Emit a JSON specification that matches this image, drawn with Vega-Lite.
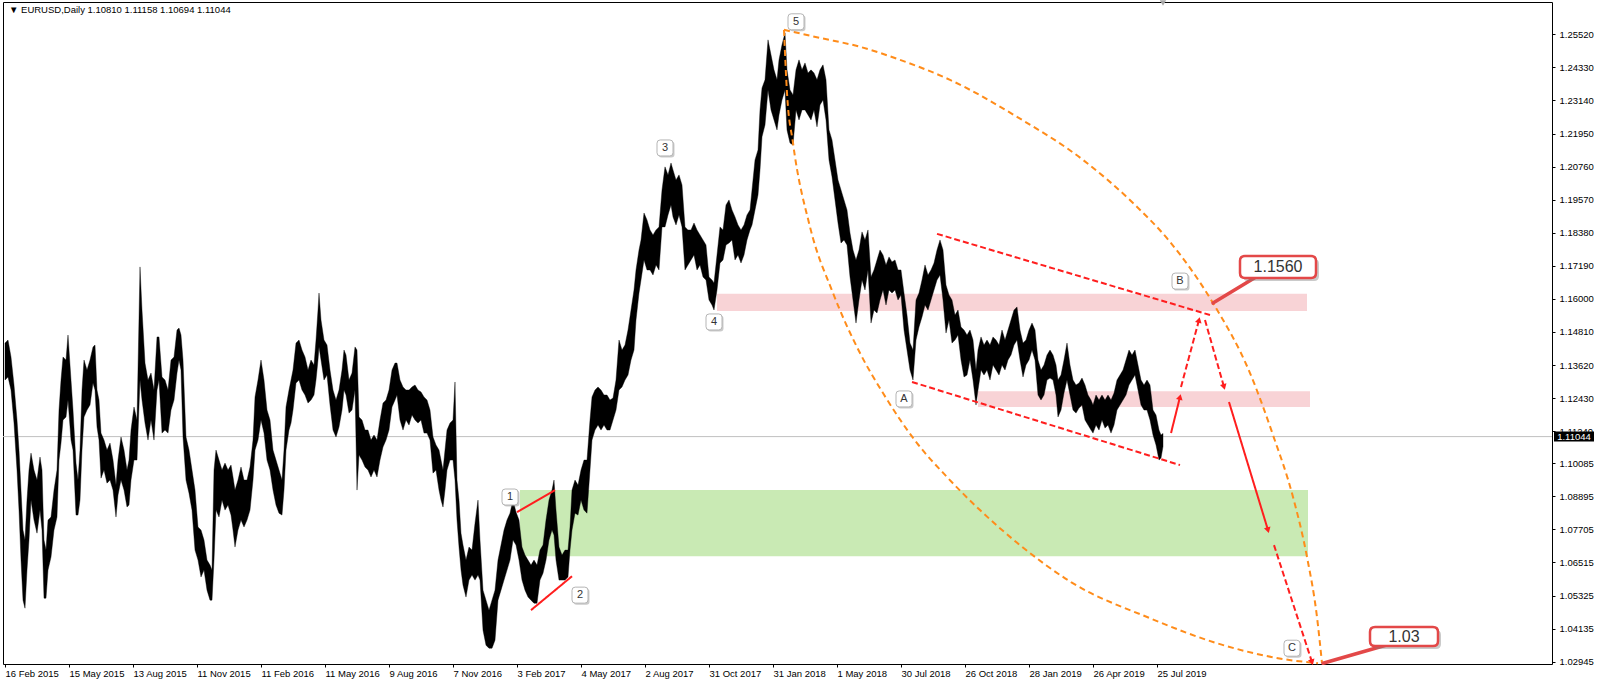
{
"$schema":"https://vega.github.io/schema/vega-lite/v6.json",
"width":1549,"height":662,
"autosize":{"type":"none"},
"padding":{"left":3,"top":2,"right":48,"bottom":21},
"background":"#ffffff",
"config":{"view":{"stroke":"#000000","strokeWidth":1},"axis":{"labelOverlap":false,"labelBound":false,"labelFlush":false}},
"datasets":{
"price":[
{"b":0,"p":1.1441,"p2":1.1308},{"b":3,"p":1.1452,"p2":1.1319},{"b":6,"p":1.1391,"p2":1.1272},{"b":9,"p":1.1290,"p2":1.1153},{"b":12,"p":1.1164,"p2":1.0984},{"b":14,"p":1.1056,"p2":1.0840},{"b":16,"p":1.0912,"p2":1.0660},{"b":18,"p":1.0768,"p2":1.0516},{"b":20,"p":1.0732,"p2":1.0487},{"b":22,"p":1.0876,"p2":1.0624},{"b":24,"p":1.0984,"p2":1.0732},{"b":26,"p":1.1045,"p2":1.0876},{"b":29,"p":1.0984,"p2":1.0804},{"b":32,"p":1.0948,"p2":1.0757},{"b":35,"p":1.1031,"p2":1.0840},{"b":37,"p":1.0984,"p2":1.0768},{"b":39,"p":1.0732,"p2":1.0523},{"b":41,"p":1.0696,"p2":1.0523},{"b":43,"p":1.0804,"p2":1.0624},{"b":46,"p":1.0815,"p2":1.0671},{"b":49,"p":1.0912,"p2":1.0768},{"b":52,"p":1.0984,"p2":1.0815},{"b":54,"p":1.1200,"p2":1.1020},{"b":56,"p":1.1308,"p2":1.1081},{"b":58,"p":1.1391,"p2":1.1164},{"b":61,"p":1.1380,"p2":1.1175},{"b":63,"p":1.1470,"p2":1.1236},{"b":66,"p":1.1308,"p2":1.1092},{"b":68,"p":1.1200,"p2":1.1056},{"b":71,"p":1.1009,"p2":1.0822},{"b":73,"p":1.0948,"p2":1.0822},{"b":75,"p":1.1056,"p2":1.0876},{"b":77,"p":1.1272,"p2":1.1056},{"b":79,"p":1.1380,"p2":1.1175},{"b":82,"p":1.1344,"p2":1.1200},{"b":85,"p":1.1380,"p2":1.1218},{"b":88,"p":1.1427,"p2":1.1297},{"b":90,"p":1.1434,"p2":1.1272},{"b":92,"p":1.1272,"p2":1.1139},{"b":94,"p":1.1236,"p2":1.1092},{"b":96,"p":1.1117,"p2":1.0955},{"b":99,"p":1.1092,"p2":1.0984},{"b":102,"p":1.1056,"p2":1.0937},{"b":105,"p":1.1081,"p2":1.0948},{"b":108,"p":1.1020,"p2":1.0912},{"b":111,"p":1.0930,"p2":1.0815},{"b":113,"p":1.1020,"p2":1.0894},{"b":116,"p":1.1103,"p2":1.0948},{"b":119,"p":1.1056,"p2":1.0912},{"b":122,"p":1.0984,"p2":1.0851},{"b":124,"p":1.1020,"p2":1.0858},{"b":126,"p":1.1128,"p2":1.0948},{"b":129,"p":1.1211,"p2":1.1020},{"b":132,"p":1.1164,"p2":1.1020},{"b":135,"p":1.1715,"p2":1.1308},{"b":137,"p":1.1560,"p2":1.1236},{"b":140,"p":1.1369,"p2":1.1153},{"b":143,"p":1.1308,"p2":1.1092},{"b":146,"p":1.1333,"p2":1.1164},{"b":149,"p":1.1272,"p2":1.1092},{"b":152,"p":1.1463,"p2":1.1272},{"b":154,"p":1.1463,"p2":1.1308},{"b":157,"p":1.1319,"p2":1.1117},{"b":160,"p":1.1308,"p2":1.1128},{"b":163,"p":1.1272,"p2":1.1117},{"b":166,"p":1.1380,"p2":1.1200},{"b":169,"p":1.1391,"p2":1.1236},{"b":172,"p":1.1488,"p2":1.1333},{"b":174,"p":1.1495,"p2":1.1380},{"b":176,"p":1.1470,"p2":1.1344},{"b":178,"p":1.1380,"p2":1.1103},{"b":181,"p":1.1103,"p2":1.0948},{"b":184,"p":1.1056,"p2":1.0901},{"b":187,"p":1.0984,"p2":1.0840},{"b":190,"p":1.0912,"p2":1.0696},{"b":193,"p":1.0779,"p2":1.0660},{"b":196,"p":1.0768,"p2":1.0599},{"b":199,"p":1.0732,"p2":1.0624},{"b":202,"p":1.0660,"p2":1.0552},{"b":205,"p":1.0642,"p2":1.0516},{"b":207,"p":1.0624,"p2":1.0516},{"b":209,"p":1.0984,"p2":1.0660},{"b":211,"p":1.1056,"p2":1.0840},{"b":214,"p":1.1020,"p2":1.0815},{"b":217,"p":1.0984,"p2":1.0876},{"b":220,"p":1.1009,"p2":1.0840},{"b":223,"p":1.0984,"p2":1.0858},{"b":226,"p":1.1002,"p2":1.0822},{"b":228,"p":1.0959,"p2":1.0768},{"b":230,"p":1.0912,"p2":1.0707},{"b":233,"p":1.0948,"p2":1.0768},{"b":236,"p":1.0995,"p2":1.0804},{"b":239,"p":1.0948,"p2":1.0779},{"b":242,"p":1.0948,"p2":1.0804},{"b":245,"p":1.0995,"p2":1.0840},{"b":248,"p":1.1092,"p2":1.0948},{"b":250,"p":1.1247,"p2":1.1056},{"b":253,"p":1.1308,"p2":1.1092},{"b":256,"p":1.1380,"p2":1.1164},{"b":259,"p":1.1308,"p2":1.1117},{"b":262,"p":1.1200,"p2":1.1020},{"b":265,"p":1.1164,"p2":1.0984},{"b":268,"p":1.1056,"p2":1.0912},{"b":271,"p":1.1020,"p2":1.0858},{"b":274,"p":1.0984,"p2":1.0829},{"b":277,"p":1.0948,"p2":1.0822},{"b":279,"p":1.1056,"p2":1.0912},{"b":281,"p":1.1211,"p2":1.1056},{"b":284,"p":1.1272,"p2":1.1128},{"b":286,"p":1.1308,"p2":1.1153},{"b":288,"p":1.1344,"p2":1.1200},{"b":291,"p":1.1441,"p2":1.1297},{"b":294,"p":1.1452,"p2":1.1308},{"b":297,"p":1.1416,"p2":1.1272},{"b":300,"p":1.1391,"p2":1.1254},{"b":303,"p":1.1344,"p2":1.1225},{"b":306,"p":1.1380,"p2":1.1236},{"b":309,"p":1.1362,"p2":1.1254},{"b":311,"p":1.1452,"p2":1.1308},{"b":313,"p":1.1560,"p2":1.1380},{"b":314,"p":1.1621,"p2":1.1427},{"b":316,"p":1.1524,"p2":1.1380},{"b":319,"p":1.1452,"p2":1.1308},{"b":322,"p":1.1434,"p2":1.1326},{"b":325,"p":1.1344,"p2":1.1218},{"b":328,"p":1.1272,"p2":1.1128},{"b":331,"p":1.1236,"p2":1.1103},{"b":334,"p":1.1272,"p2":1.1139},{"b":337,"p":1.1344,"p2":1.1200},{"b":339,"p":1.1416,"p2":1.1272},{"b":341,"p":1.1398,"p2":1.1254},{"b":344,"p":1.1308,"p2":1.1189},{"b":347,"p":1.1333,"p2":1.1200},{"b":350,"p":1.1427,"p2":1.1272},{"b":352,"p":1.1416,"p2":1.0912},{"b":354,"p":1.1175,"p2":1.1038},{"b":357,"p":1.1164,"p2":1.1020},{"b":360,"p":1.1128,"p2":1.0995},{"b":363,"p":1.1128,"p2":1.0984},{"b":366,"p":1.1092,"p2":1.0959},{"b":369,"p":1.1110,"p2":1.0984},{"b":372,"p":1.1092,"p2":1.0959},{"b":375,"p":1.1164,"p2":1.1020},{"b":378,"p":1.1225,"p2":1.1067},{"b":381,"p":1.1236,"p2":1.1092},{"b":384,"p":1.1272,"p2":1.1128},{"b":387,"p":1.1344,"p2":1.1211},{"b":390,"p":1.1369,"p2":1.1236},{"b":392,"p":1.1369,"p2":1.1254},{"b":395,"p":1.1308,"p2":1.1164},{"b":398,"p":1.1283,"p2":1.1128},{"b":401,"p":1.1272,"p2":1.1164},{"b":404,"p":1.1272,"p2":1.1146},{"b":407,"p":1.1283,"p2":1.1182},{"b":410,"p":1.1290,"p2":1.1164},{"b":413,"p":1.1272,"p2":1.1153},{"b":416,"p":1.1265,"p2":1.1164},{"b":419,"p":1.1247,"p2":1.1117},{"b":422,"p":1.1236,"p2":1.1117},{"b":425,"p":1.1200,"p2":1.1092},{"b":428,"p":1.1103,"p2":1.0973},{"b":431,"p":1.1074,"p2":1.0984},{"b":434,"p":1.1056,"p2":1.0912},{"b":436,"p":1.1020,"p2":1.0876},{"b":438,"p":1.0984,"p2":1.0851},{"b":440,"p":1.1056,"p2":1.0912},{"b":442,"p":1.1128,"p2":1.0984},{"b":445,"p":1.1153,"p2":1.1020},{"b":448,"p":1.1164,"p2":1.1020},{"b":450,"p":1.1301,"p2":1.0948},{"b":452,"p":1.0948,"p2":1.0804},{"b":454,"p":1.0876,"p2":1.0707},{"b":456,"p":1.0757,"p2":1.0624},{"b":458,"p":1.0714,"p2":1.0570},{"b":461,"p":1.0660,"p2":1.0527},{"b":464,"p":1.0707,"p2":1.0588},{"b":467,"p":1.0696,"p2":1.0606},{"b":470,"p":1.0793,"p2":1.0588},{"b":473,"p":1.0876,"p2":1.0606},{"b":475,"p":1.0732,"p2":1.0588},{"b":478,"p":1.0552,"p2":1.0408},{"b":481,"p":1.0516,"p2":1.0354},{"b":484,"p":1.0480,"p2":1.0343},{"b":487,"p":1.0516,"p2":1.0343},{"b":490,"p":1.0552,"p2":1.0372},{"b":493,"p":1.0660,"p2":1.0516},{"b":496,"p":1.0714,"p2":1.0552},{"b":499,"p":1.0768,"p2":1.0588},{"b":502,"p":1.0804,"p2":1.0624},{"b":505,"p":1.0829,"p2":1.0660},{"b":508,"p":1.0876,"p2":1.0732},{"b":511,"p":1.0833,"p2":1.0714},{"b":514,"p":1.0804,"p2":1.0660},{"b":517,"p":1.0707,"p2":1.0588},{"b":520,"p":1.0678,"p2":1.0552},{"b":523,"p":1.0660,"p2":1.0527},{"b":526,"p":1.0642,"p2":1.0516},{"b":529,"p":1.0660,"p2":1.0505},{"b":532,"p":1.0642,"p2":1.0505},{"b":535,"p":1.0696,"p2":1.0588},{"b":538,"p":1.0714,"p2":1.0613},{"b":541,"p":1.0804,"p2":1.0660},{"b":544,"p":1.0876,"p2":1.0732},{"b":547,"p":1.0912,"p2":1.0768},{"b":549,"p":1.0948,"p2":1.0750},{"b":551,"p":1.0840,"p2":1.0660},{"b":554,"p":1.0707,"p2":1.0588},{"b":557,"p":1.0678,"p2":1.0588},{"b":560,"p":1.0696,"p2":1.0588},{"b":563,"p":1.0696,"p2":1.0599},{"b":565,"p":1.0779,"p2":1.0696},{"b":567,"p":1.0912,"p2":1.0768},{"b":570,"p":1.0948,"p2":1.0829},{"b":573,"p":1.0930,"p2":1.0822},{"b":576,"p":1.0984,"p2":1.0876},{"b":579,"p":1.1020,"p2":1.0840},{"b":582,"p":1.1020,"p2":1.0829},{"b":585,"p":1.1164,"p2":1.0984},{"b":587,"p":1.1247,"p2":1.1092},{"b":590,"p":1.1272,"p2":1.1128},{"b":593,"p":1.1283,"p2":1.1146},{"b":596,"p":1.1272,"p2":1.1128},{"b":599,"p":1.1254,"p2":1.1146},{"b":602,"p":1.1254,"p2":1.1128},{"b":605,"p":1.1236,"p2":1.1128},{"b":608,"p":1.1243,"p2":1.1164},{"b":611,"p":1.1308,"p2":1.1200},{"b":614,"p":1.1452,"p2":1.1272},{"b":617,"p":1.1416,"p2":1.1283},{"b":620,"p":1.1434,"p2":1.1308},{"b":623,"p":1.1488,"p2":1.1326},{"b":626,"p":1.1560,"p2":1.1380},{"b":629,"p":1.1632,"p2":1.1416},{"b":631,"p":1.1704,"p2":1.1524},{"b":634,"p":1.1776,"p2":1.1621},{"b":636,"p":1.1812,"p2":1.1668},{"b":639,"p":1.1909,"p2":1.1740},{"b":642,"p":1.1884,"p2":1.1704},{"b":645,"p":1.1848,"p2":1.1704},{"b":648,"p":1.1830,"p2":1.1686},{"b":651,"p":1.1848,"p2":1.1722},{"b":654,"p":1.1859,"p2":1.1704},{"b":657,"p":1.1992,"p2":1.1859},{"b":660,"p":1.2075,"p2":1.1859},{"b":663,"p":1.2046,"p2":1.1902},{"b":666,"p":1.2089,"p2":1.1938},{"b":668,"p":1.2064,"p2":1.1895},{"b":671,"p":1.2028,"p2":1.1866},{"b":674,"p":1.2046,"p2":1.1902},{"b":677,"p":1.2010,"p2":1.1859},{"b":680,"p":1.1859,"p2":1.1704},{"b":683,"p":1.1848,"p2":1.1722},{"b":686,"p":1.1848,"p2":1.1740},{"b":689,"p":1.1873,"p2":1.1758},{"b":692,"p":1.1848,"p2":1.1704},{"b":695,"p":1.1830,"p2":1.1722},{"b":698,"p":1.1812,"p2":1.1679},{"b":701,"p":1.1794,"p2":1.1668},{"b":704,"p":1.1679,"p2":1.1596},{"b":707,"p":1.1668,"p2":1.1578},{"b":709,"p":1.1657,"p2":1.1560},{"b":712,"p":1.1758,"p2":1.1632},{"b":715,"p":1.1859,"p2":1.1729},{"b":718,"p":1.1848,"p2":1.1740},{"b":721,"p":1.1938,"p2":1.1794},{"b":724,"p":1.1956,"p2":1.1801},{"b":727,"p":1.1920,"p2":1.1812},{"b":730,"p":1.1895,"p2":1.1740},{"b":733,"p":1.1866,"p2":1.1758},{"b":736,"p":1.1848,"p2":1.1729},{"b":739,"p":1.1866,"p2":1.1758},{"b":742,"p":1.1902,"p2":1.1812},{"b":745,"p":1.1920,"p2":1.1848},{"b":747,"p":1.1992,"p2":1.1866},{"b":750,"p":1.2100,"p2":1.1920},{"b":753,"p":1.2136,"p2":1.1974},{"b":755,"p":1.2280,"p2":1.2064},{"b":757,"p":1.2359,"p2":1.2183},{"b":760,"p":1.2388,"p2":1.2226},{"b":763,"p":1.2532,"p2":1.2352},{"b":766,"p":1.2478,"p2":1.2280},{"b":769,"p":1.2424,"p2":1.2244},{"b":772,"p":1.2388,"p2":1.2208},{"b":774,"p":1.2460,"p2":1.2262},{"b":777,"p":1.2514,"p2":1.2316},{"b":780,"p":1.2557,"p2":1.2352},{"b":782,"p":1.2424,"p2":1.2208},{"b":785,"p":1.2352,"p2":1.2161},{"b":788,"p":1.2334,"p2":1.2154},{"b":791,"p":1.2424,"p2":1.2280},{"b":794,"p":1.2460,"p2":1.2244},{"b":797,"p":1.2424,"p2":1.2280},{"b":800,"p":1.2449,"p2":1.2280},{"b":803,"p":1.2413,"p2":1.2262},{"b":806,"p":1.2424,"p2":1.2244},{"b":809,"p":1.2413,"p2":1.2280},{"b":812,"p":1.2388,"p2":1.2219},{"b":815,"p":1.2424,"p2":1.2298},{"b":818,"p":1.2442,"p2":1.2316},{"b":821,"p":1.2388,"p2":1.2244},{"b":824,"p":1.2208,"p2":1.2100},{"b":827,"p":1.2172,"p2":1.2039},{"b":830,"p":1.2100,"p2":1.1956},{"b":833,"p":1.2028,"p2":1.1873},{"b":836,"p":1.1992,"p2":1.1801},{"b":839,"p":1.1956,"p2":1.1812},{"b":842,"p":1.1920,"p2":1.1794},{"b":845,"p":1.1837,"p2":1.1679},{"b":848,"p":1.1776,"p2":1.1596},{"b":851,"p":1.1740,"p2":1.1513},{"b":854,"p":1.1776,"p2":1.1596},{"b":857,"p":1.1841,"p2":1.1668},{"b":860,"p":1.1812,"p2":1.1632},{"b":863,"p":1.1848,"p2":1.1704},{"b":866,"p":1.1679,"p2":1.1513},{"b":869,"p":1.1704,"p2":1.1560},{"b":872,"p":1.1740,"p2":1.1549},{"b":875,"p":1.1776,"p2":1.1596},{"b":878,"p":1.1758,"p2":1.1632},{"b":881,"p":1.1722,"p2":1.1578},{"b":884,"p":1.1751,"p2":1.1632},{"b":887,"p":1.1733,"p2":1.1621},{"b":890,"p":1.1740,"p2":1.1632},{"b":893,"p":1.1704,"p2":1.1596},{"b":896,"p":1.1704,"p2":1.1614},{"b":899,"p":1.1621,"p2":1.1488},{"b":902,"p":1.1542,"p2":1.1416},{"b":905,"p":1.1441,"p2":1.1344},{"b":908,"p":1.1416,"p2":1.1308},{"b":911,"p":1.1596,"p2":1.1452},{"b":914,"p":1.1621,"p2":1.1499},{"b":917,"p":1.1668,"p2":1.1535},{"b":920,"p":1.1722,"p2":1.1578},{"b":923,"p":1.1686,"p2":1.1560},{"b":926,"p":1.1704,"p2":1.1596},{"b":929,"p":1.1729,"p2":1.1632},{"b":932,"p":1.1776,"p2":1.1668},{"b":935,"p":1.1812,"p2":1.1686},{"b":938,"p":1.1776,"p2":1.1596},{"b":941,"p":1.1650,"p2":1.1477},{"b":944,"p":1.1614,"p2":1.1524},{"b":947,"p":1.1596,"p2":1.1441},{"b":950,"p":1.1542,"p2":1.1452},{"b":953,"p":1.1560,"p2":1.1470},{"b":956,"p":1.1499,"p2":1.1380},{"b":959,"p":1.1488,"p2":1.1319},{"b":962,"p":1.1470,"p2":1.1326},{"b":965,"p":1.1488,"p2":1.1380},{"b":968,"p":1.1452,"p2":1.1308},{"b":971,"p":1.1344,"p2":1.1218},{"b":973,"p":1.1416,"p2":1.1272},{"b":976,"p":1.1463,"p2":1.1344},{"b":979,"p":1.1434,"p2":1.1326},{"b":982,"p":1.1452,"p2":1.1344},{"b":985,"p":1.1434,"p2":1.1308},{"b":988,"p":1.1463,"p2":1.1362},{"b":991,"p":1.1452,"p2":1.1344},{"b":994,"p":1.1434,"p2":1.1326},{"b":997,"p":1.1488,"p2":1.1362},{"b":1000,"p":1.1452,"p2":1.1344},{"b":1003,"p":1.1488,"p2":1.1380},{"b":1006,"p":1.1524,"p2":1.1398},{"b":1009,"p":1.1560,"p2":1.1434},{"b":1012,"p":1.1571,"p2":1.1452},{"b":1015,"p":1.1488,"p2":1.1380},{"b":1018,"p":1.1441,"p2":1.1319},{"b":1021,"p":1.1452,"p2":1.1362},{"b":1024,"p":1.1488,"p2":1.1380},{"b":1027,"p":1.1513,"p2":1.1416},{"b":1030,"p":1.1488,"p2":1.1380},{"b":1033,"p":1.1380,"p2":1.1254},{"b":1036,"p":1.1344,"p2":1.1236},{"b":1039,"p":1.1362,"p2":1.1254},{"b":1042,"p":1.1398,"p2":1.1308},{"b":1045,"p":1.1416,"p2":1.1315},{"b":1048,"p":1.1398,"p2":1.1308},{"b":1051,"p":1.1362,"p2":1.1254},{"b":1053,"p":1.1308,"p2":1.1175},{"b":1056,"p":1.1326,"p2":1.1200},{"b":1059,"p":1.1380,"p2":1.1261},{"b":1062,"p":1.1441,"p2":1.1308},{"b":1065,"p":1.1362,"p2":1.1254},{"b":1068,"p":1.1308,"p2":1.1200},{"b":1071,"p":1.1290,"p2":1.1189},{"b":1074,"p":1.1297,"p2":1.1207},{"b":1077,"p":1.1315,"p2":1.1218},{"b":1080,"p":1.1290,"p2":1.1164},{"b":1083,"p":1.1254,"p2":1.1146},{"b":1086,"p":1.1236,"p2":1.1128},{"b":1088,"p":1.1218,"p2":1.1117},{"b":1091,"p":1.1254,"p2":1.1146},{"b":1094,"p":1.1236,"p2":1.1128},{"b":1097,"p":1.1254,"p2":1.1164},{"b":1100,"p":1.1236,"p2":1.1135},{"b":1103,"p":1.1254,"p2":1.1146},{"b":1106,"p":1.1236,"p2":1.1117},{"b":1109,"p":1.1261,"p2":1.1146},{"b":1112,"p":1.1308,"p2":1.1200},{"b":1115,"p":1.1326,"p2":1.1218},{"b":1118,"p":1.1344,"p2":1.1236},{"b":1121,"p":1.1380,"p2":1.1254},{"b":1124,"p":1.1416,"p2":1.1290},{"b":1127,"p":1.1398,"p2":1.1308},{"b":1130,"p":1.1416,"p2":1.1326},{"b":1133,"p":1.1362,"p2":1.1272},{"b":1136,"p":1.1308,"p2":1.1218},{"b":1139,"p":1.1290,"p2":1.1200},{"b":1142,"p":1.1308,"p2":1.1200},{"b":1145,"p":1.1290,"p2":1.1164},{"b":1148,"p":1.1200,"p2":1.1110},{"b":1151,"p":1.1182,"p2":1.1074},{"b":1154,"p":1.1128,"p2":1.1020},{"b":1156,"p":1.1110,"p2":1.1027},{"b":1158,"p":1.1116,"p2":1.1069}
],
"zones":[
{"b":712,"b2":1302,"p":1.1618,"p2":1.1556,"kind":"resistance"},
{"b":973,"b2":1305,"p":1.1268,"p2":1.1211,"kind":"resistance"},
{"b":515,"b2":1303,"p":1.0912,"p2":1.0674,"kind":"support"}
],
"arcs":[
{"arc":"outer","b":779,"p":1.2568},{"arc":"outer","b":815,"p":1.2539},{"arc":"outer","b":855,"p":1.2507},{"arc":"outer","b":895,"p":1.2460},{"arc":"outer","b":945,"p":1.2388},{"arc":"outer","b":1012,"p":1.2255},{"arc":"outer","b":1078,"p":1.2100},{"arc":"outer","b":1128,"p":1.1945},{"arc":"outer","b":1165,"p":1.1805},{"arc":"outer","b":1208,"p":1.1585},{"arc":"outer","b":1245,"p":1.1333},{"arc":"outer","b":1268,"p":1.1110},{"arc":"outer","b":1288,"p":1.0887},{"arc":"outer","b":1302,"p":1.0671},{"arc":"outer","b":1312,"p":1.0455},{"arc":"outer","b":1317,"p":1.0289},
{"arc":"inner","b":779,"p":1.2568},{"arc":"inner","b":782,"p":1.2341},{"arc":"inner","b":788,"p":1.2161},{"arc":"inner","b":805,"p":1.1859},{"arc":"inner","b":828,"p":1.1621},{"arc":"inner","b":855,"p":1.1405},{"arc":"inner","b":878,"p":1.1261},{"arc":"inner","b":912,"p":1.1081},{"arc":"inner","b":942,"p":1.0959},{"arc":"inner","b":975,"p":1.0840},{"arc":"inner","b":1015,"p":1.0714},{"arc":"inner","b":1066,"p":1.0581},{"arc":"inner","b":1145,"p":1.0451},{"arc":"inner","b":1212,"p":1.0361},{"arc":"inner","b":1278,"p":1.0304},{"arc":"inner","b":1313,"p":1.0289}
],
"segs":[
{"id":"w1","b":512,"p":1.0833,"b2":550,"p2":1.0912,"s":"solid","dir":"none"},
{"id":"w2","b":526,"p":1.0480,"b2":567,"p2":1.0602,"s":"solid","dir":"none"},
{"id":"cu","b":932,"p":1.1834,"b2":1205,"p2":1.1542,"s":"dashed","dir":"none"},
{"id":"cl","b":907,"p":1.1301,"b2":1175,"p2":1.1002,"s":"dashed","dir":"none"},
{"id":"a1","b":1166,"p":1.1117,"b2":1175,"p2":1.1247,"s":"solid","dir":"up"},
{"id":"a2","b":1176,"p":1.1283,"b2":1194,"p2":1.1524,"s":"dashed","dir":"up"},
{"id":"a3","b":1200,"p":1.1524,"b2":1219,"p2":1.1283,"s":"dashed","dir":"down"},
{"id":"a4","b":1224,"p":1.1229,"b2":1263,"p2":1.0768,"s":"solid","dir":"down"},
{"id":"a5","b":1269,"p":1.0714,"b2":1307,"p2":1.0293,"s":"dashed","dir":"down"}
],
"waves":[
{"t":"1","b":505,"p":1.0887},{"t":"2","b":575,"p":1.0534},{"t":"3","b":660,"p":1.2143},{"t":"4","b":709,"p":1.1517},{"t":"5","b":791,"p":1.2597},{"t":"A","b":899,"p":1.1240},{"t":"B","b":1175,"p":1.1664},{"t":"C","b":1287,"p":1.0343}
],
"callouts":[
{"t":"1.1560","b":1273,"p":1.1715,"tb":1208,"tp":1.1585,"sb":1251,"sp":1.1679},
{"t":"1.03","b":1399,"p":1.0385,"tb":1318,"tp":1.0289,"sb":1385,"sp":1.0358}
],
"header":[{"t":"▼ EURUSD,Daily  1.10810 1.11158 1.10694 1.11044","b":4,"p":1.2640}],
"shift":[{"b":1158,"p":1.2665}],
"last":[{"p":1.11044,"t":"1.11044"}]
},
"layer":[
{"data":{"name":"zones"},"mark":{"type":"rect"},
 "encoding":{
  "x":{"field":"b","type":"quantitative","scale":{"domain":[-2,1547],"nice":false,"zero":false},
   "axis":{"values":[0,64,128,192,256,320,384,448,512,576,640,704,768,832,896,960,1024,1088,1152],"tickCount":60,
    "labelExpr":"['16 Feb 2015','15 May 2015','13 Aug 2015','11 Nov 2015','11 Feb 2016','11 May 2016','9 Aug 2016','7 Nov 2016','3 Feb 2017','4 May 2017','2 Aug 2017','31 Oct 2017','31 Jan 2018','1 May 2018','30 Jul 2018','26 Oct 2018','28 Jan 2019','26 Apr 2019','25 Jul 2019'][round(datum.value/64)]",
    "labelAlign":"left","labelBaseline":"top","labelPadding":1,"tickSize":3,"domain":false,"grid":false,"title":null,
    "labelFont":"Liberation Sans","labelFontSize":9.5,"labelColor":"#000000","tickColor":"#000000","labelFlush":false,"labelOverlap":false,"labelBound":false}},
  "x2":{"field":"b2"},
  "y":{"field":"p","type":"quantitative","scale":{"domain":[1.02862,1.26682],"nice":false,"zero":false},
   "axis":{"orient":"right","values":[1.2552,1.2433,1.2314,1.2195,1.2076,1.1957,1.1838,1.1719,1.16,1.1481,1.1362,1.1243,1.1124,1.10085,1.08895,1.07705,1.06515,1.05325,1.04135,1.02945],"tickCount":60,
    "format":".5f","tickSize":3,"labelPadding":4,"domain":false,"grid":false,"title":null,
    "labelFont":"Liberation Sans","labelFontSize":9.5,"labelColor":"#000000","tickColor":"#000000","labelOverlap":false,"labelFlush":false,"labelBound":false}},
  "y2":{"field":"p2"},
  "color":{"field":"kind","type":"nominal","scale":{"domain":["resistance","support"],"range":["#F8D3D6","#C9EAB4"]},"legend":null}
 }},
{"data":{"name":"last"},"mark":{"type":"rule","color":"#C0C0C0","strokeWidth":1},
 "encoding":{"y":{"field":"p","type":"quantitative","scale":{"domain":[1.02862,1.26682],"nice":false,"zero":false}}}},
{"data":{"name":"price"},"mark":{"type":"area","color":"#000000","stroke":"#000000","strokeWidth":0.4,"interpolate":"linear"},
 "encoding":{
  "x":{"field":"b","type":"quantitative","scale":{"domain":[-2,1547],"nice":false,"zero":false}},
  "y":{"field":"p","type":"quantitative","scale":{"domain":[1.02862,1.26682],"nice":false,"zero":false}},
  "y2":{"field":"p2"}}},
{"data":{"name":"arcs"},"mark":{"type":"line","color":"#FF8C1A","strokeWidth":2,"strokeDash":[6,4],"interpolate":"monotone"},
 "encoding":{
  "x":{"field":"b","type":"quantitative","scale":{"domain":[-2,1547],"nice":false,"zero":false}},
  "y":{"field":"p","type":"quantitative","scale":{"domain":[1.02862,1.26682],"nice":false,"zero":false}},
  "detail":{"field":"arc"}}},
{"data":{"name":"segs"},"mark":{"type":"rule","color":"#FF1E1E","strokeWidth":2},
 "encoding":{
  "x":{"field":"b","type":"quantitative","scale":{"domain":[-2,1547],"nice":false,"zero":false}},
  "y":{"field":"p","type":"quantitative","scale":{"domain":[1.02862,1.26682],"nice":false,"zero":false}},
  "x2":{"field":"b2"},"y2":{"field":"p2"},
  "strokeDash":{"field":"s","type":"nominal","scale":{"domain":["solid","dashed"],"range":[[1,0],[6,3]]},"legend":null}}},
{"data":{"name":"segs"},"transform":[{"filter":"datum.dir == 'up'"}],
 "mark":{"type":"point","shape":"triangle-up","filled":true,"color":"#FF1E1E","size":45,"angle":14,"opacity":1},
 "encoding":{
  "x":{"field":"b2","type":"quantitative","scale":{"domain":[-2,1547],"nice":false,"zero":false}},
  "y":{"field":"p2","type":"quantitative","scale":{"domain":[1.02862,1.26682],"nice":false,"zero":false}}}},
{"data":{"name":"segs"},"transform":[{"filter":"datum.dir == 'down'"}],
 "mark":{"type":"point","shape":"triangle-down","filled":true,"color":"#FF1E1E","size":45,"angle":344,"opacity":1},
 "encoding":{
  "x":{"field":"b2","type":"quantitative","scale":{"domain":[-2,1547],"nice":false,"zero":false}},
  "y":{"field":"p2","type":"quantitative","scale":{"domain":[1.02862,1.26682],"nice":false,"zero":false}}}},
{"data":{"name":"waves"},
 "mark":{"type":"point","shape":"M-0.6,-1H0.6Q1,-1 1,-0.6V0.6Q1,1 0.6,1H-0.6Q-1,1 -1,0.6V-0.6Q-1,-1 -0.6,-1Z","filled":true,"color":"#8A8A8A","opacity":0.45,"size":256,"xOffset":1.5,"yOffset":1.5},
 "encoding":{
  "x":{"field":"b","type":"quantitative","scale":{"domain":[-2,1547],"nice":false,"zero":false}},
  "y":{"field":"p","type":"quantitative","scale":{"domain":[1.02862,1.26682],"nice":false,"zero":false}}}},
{"data":{"name":"waves"},
 "mark":{"type":"point","shape":"M-0.6,-1H0.6Q1,-1 1,-0.6V0.6Q1,1 0.6,1H-0.6Q-1,1 -1,0.6V-0.6Q-1,-1 -0.6,-1Z","filled":true,"fill":"#FFFFFF","stroke":"#B5B5B5","strokeWidth":1,"opacity":1,"size":256},
 "encoding":{
  "x":{"field":"b","type":"quantitative","scale":{"domain":[-2,1547],"nice":false,"zero":false}},
  "y":{"field":"p","type":"quantitative","scale":{"domain":[1.02862,1.26682],"nice":false,"zero":false}}}},
{"data":{"name":"waves"},
 "mark":{"type":"text","font":"Liberation Sans","fontSize":11,"color":"#333333","align":"center","baseline":"middle"},
 "encoding":{
  "x":{"field":"b","type":"quantitative","scale":{"domain":[-2,1547],"nice":false,"zero":false}},
  "y":{"field":"p","type":"quantitative","scale":{"domain":[1.02862,1.26682],"nice":false,"zero":false}},
  "text":{"field":"t"}}},
{"data":{"name":"callouts"},"mark":{"type":"rule","color":"#E34848","strokeWidth":3.5,"strokeCap":"round"},
 "encoding":{
  "x":{"field":"tb","type":"quantitative","scale":{"domain":[-2,1547],"nice":false,"zero":false}},
  "y":{"field":"tp","type":"quantitative","scale":{"domain":[1.02862,1.26682],"nice":false,"zero":false}},
  "x2":{"field":"sb"},"y2":{"field":"sp"}}},
{"data":{"name":"callouts"},"transform":[{"filter":"datum.t == '1.1560'"}],
 "mark":{"type":"point","shape":"M-0.87,-0.29H0.87Q1,-0.29 1,-0.16V0.16Q1,0.29 0.87,0.29H-0.87Q-1,0.29 -1,0.16V-0.16Q-1,-0.29 -0.87,-0.29Z","filled":true,"color":"#7A7A7A","opacity":0.4,"size":5776,"xOffset":3,"yOffset":3},
 "encoding":{
  "x":{"field":"b","type":"quantitative","scale":{"domain":[-2,1547],"nice":false,"zero":false}},
  "y":{"field":"p","type":"quantitative","scale":{"domain":[1.02862,1.26682],"nice":false,"zero":false}}}},
{"data":{"name":"callouts"},"transform":[{"filter":"datum.t == '1.1560'"}],
 "mark":{"type":"point","shape":"M-0.87,-0.29H0.87Q1,-0.29 1,-0.16V0.16Q1,0.29 0.87,0.29H-0.87Q-1,0.29 -1,0.16V-0.16Q-1,-0.29 -0.87,-0.29Z","filled":true,"fill":"#FFFFFF","stroke":"#E34848","strokeWidth":2.5,"opacity":1,"size":5776},
 "encoding":{
  "x":{"field":"b","type":"quantitative","scale":{"domain":[-2,1547],"nice":false,"zero":false}},
  "y":{"field":"p","type":"quantitative","scale":{"domain":[1.02862,1.26682],"nice":false,"zero":false}}}},
{"data":{"name":"callouts"},"transform":[{"filter":"datum.t == '1.03'"}],
 "mark":{"type":"point","shape":"M-0.85,-0.28H0.85Q1,-0.28 1,-0.13V0.13Q1,0.28 0.85,0.28H-0.85Q-1,0.28 -1,0.13V-0.13Q-1,-0.28 -0.85,-0.28Z","filled":true,"color":"#7A7A7A","opacity":0.4,"size":4624,"xOffset":3,"yOffset":3},
 "encoding":{
  "x":{"field":"b","type":"quantitative","scale":{"domain":[-2,1547],"nice":false,"zero":false}},
  "y":{"field":"p","type":"quantitative","scale":{"domain":[1.02862,1.26682],"nice":false,"zero":false}}}},
{"data":{"name":"callouts"},"transform":[{"filter":"datum.t == '1.03'"}],
 "mark":{"type":"point","shape":"M-0.85,-0.28H0.85Q1,-0.28 1,-0.13V0.13Q1,0.28 0.85,0.28H-0.85Q-1,0.28 -1,0.13V-0.13Q-1,-0.28 -0.85,-0.28Z","filled":true,"fill":"#FFFFFF","stroke":"#E34848","strokeWidth":2.5,"opacity":1,"size":4624},
 "encoding":{
  "x":{"field":"b","type":"quantitative","scale":{"domain":[-2,1547],"nice":false,"zero":false}},
  "y":{"field":"p","type":"quantitative","scale":{"domain":[1.02862,1.26682],"nice":false,"zero":false}}}},
{"data":{"name":"callouts"},
 "mark":{"type":"text","font":"Liberation Sans","fontSize":16,"color":"#333333","align":"center","baseline":"middle"},
 "encoding":{
  "x":{"field":"b","type":"quantitative","scale":{"domain":[-2,1547],"nice":false,"zero":false}},
  "y":{"field":"p","type":"quantitative","scale":{"domain":[1.02862,1.26682],"nice":false,"zero":false}},
  "text":{"field":"t"}}},
{"data":{"name":"header"},
 "mark":{"type":"text","font":"Liberation Sans","fontSize":9.5,"color":"#000000","align":"left","baseline":"middle"},
 "encoding":{
  "x":{"field":"b","type":"quantitative","scale":{"domain":[-2,1547],"nice":false,"zero":false}},
  "y":{"field":"p","type":"quantitative","scale":{"domain":[1.02862,1.26682],"nice":false,"zero":false}},
  "text":{"field":"t"}}},
{"data":{"name":"shift"},
 "mark":{"type":"point","shape":"triangle-down","filled":true,"color":"#A8A8A8","size":40,"opacity":1},
 "encoding":{
  "x":{"field":"b","type":"quantitative","scale":{"domain":[-2,1547],"nice":false,"zero":false}},
  "y":{"field":"p","type":"quantitative","scale":{"domain":[1.02862,1.26682],"nice":false,"zero":false}}}},
{"data":{"name":"last"},
 "mark":{"type":"point","shape":"M-1,-0.25H1V0.25H-1Z","filled":true,"color":"#000000","opacity":1,"size":1600,"xOffset":22},
 "encoding":{
  "x":{"value":"width"},
  "y":{"field":"p","type":"quantitative","scale":{"domain":[1.02862,1.26682],"nice":false,"zero":false}}}},
{"data":{"name":"last"},
 "mark":{"type":"text","font":"Liberation Sans","fontSize":9.5,"color":"#FFFFFF","align":"center","baseline":"middle","dx":22},
 "encoding":{
  "x":{"value":"width"},
  "y":{"field":"p","type":"quantitative","scale":{"domain":[1.02862,1.26682],"nice":false,"zero":false}},
  "text":{"field":"t"}}}
]
}
